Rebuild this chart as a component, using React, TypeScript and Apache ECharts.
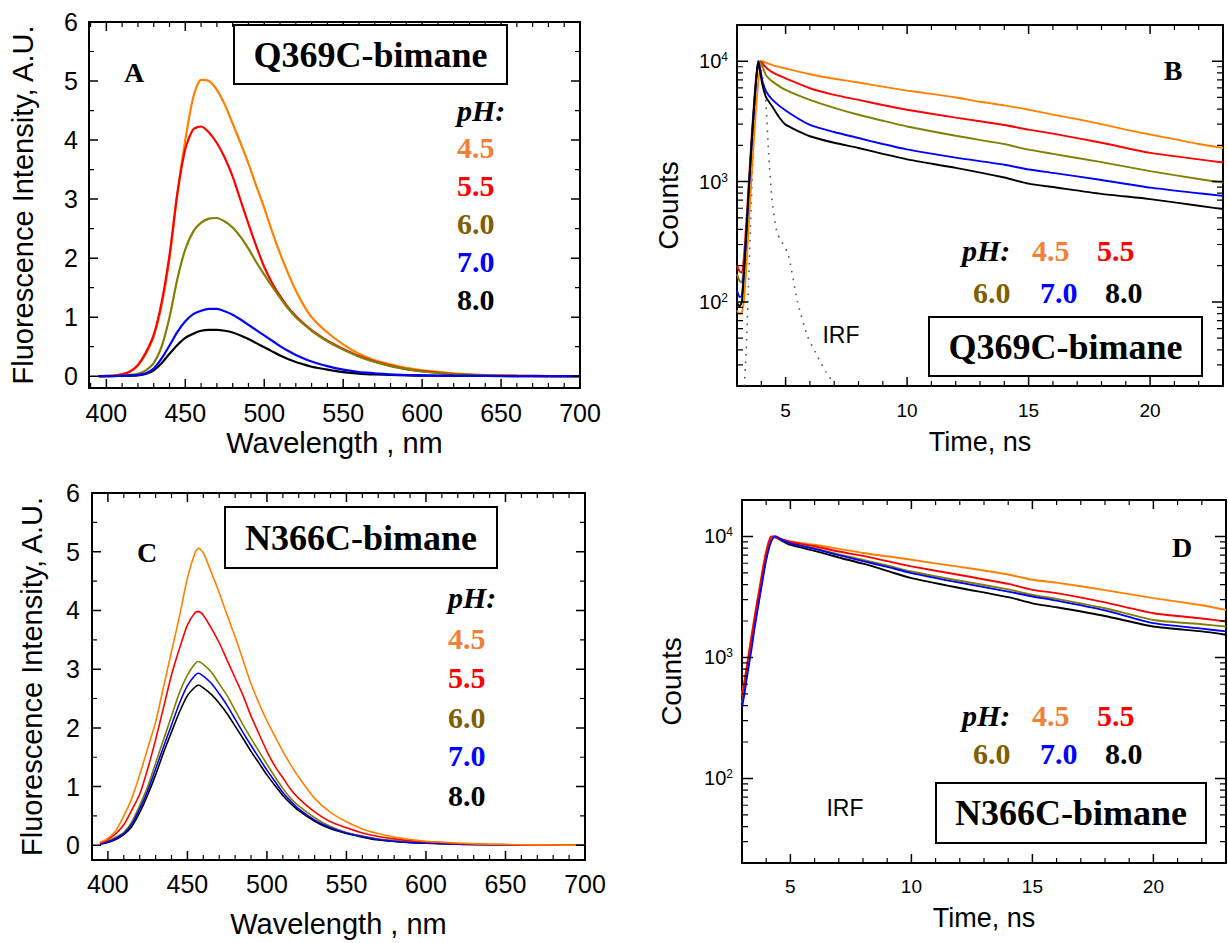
import React, { useEffect, useRef } from "react";
import * as echarts from "echarts";

const SANS = "'Liberation Sans', Arial, sans-serif";
const SERIF = "'Liberation Serif', 'Times New Roman', serif";

// ---------- legend / colours ----------
const phLabels = ["4.5", "5.5", "6.0", "7.0", "8.0"];
const lineColors = ["#FF8000", "#FF0000", "#808000", "#0000FF", "#000000"];
const textColors = ["#F0803A", "#FF0000", "#7F5F00", "#0000FF", "#000000"];

// ---------- panel A : Q369C-bimane emission spectra ----------
const wavelengthA = [395, 400, 405, 410, 415, 420, 425, 430, 435, 440, 445, 450, 455, 460, 465, 470, 475, 480, 485, 490, 495, 500, 505, 510, 515, 520, 525, 530, 540, 550, 560, 570, 580, 590, 600, 620, 640, 660, 680, 700];
const intensityA45 = [0, 0.005, 0.01, 0.03, 0.08, 0.18, 0.38, 0.68, 1.2, 2.0, 3.1, 4.0, 4.72, 5.02, 5.0, 4.85, 4.6, 4.28, 3.95, 3.6, 3.22, 2.85, 2.45, 2.08, 1.75, 1.45, 1.2, 1.0, 0.74, 0.54, 0.38, 0.27, 0.2, 0.14, 0.1, 0.05, 0.02, 0.008, 0.003, 0];
const intensityA55 = [0, 0.005, 0.01, 0.03, 0.08, 0.19, 0.4, 0.7, 1.25, 2.05, 3.1, 3.85, 4.18, 4.23, 4.13, 3.95, 3.7, 3.38, 2.98, 2.58, 2.2, 1.85, 1.58, 1.36, 1.17, 1.02, 0.89, 0.78, 0.6, 0.46, 0.34, 0.25, 0.18, 0.12, 0.085, 0.035, 0.014, 0.006, 0.002, 0];
const intensityA60 = [0, 0, 0.005, 0.01, 0.02, 0.04, 0.1, 0.22, 0.5, 1.0, 1.65, 2.15, 2.45, 2.6, 2.67, 2.68, 2.62, 2.52, 2.36, 2.16, 1.93, 1.72, 1.52, 1.33, 1.15, 1.0, 0.88, 0.77, 0.59, 0.45, 0.33, 0.24, 0.17, 0.12, 0.08, 0.035, 0.015, 0.006, 0.002, 0];
const intensityA70 = [0, 0, 0.003, 0.005, 0.01, 0.02, 0.05, 0.13, 0.3, 0.52, 0.75, 0.93, 1.05, 1.11, 1.14, 1.14, 1.1, 1.04, 0.96, 0.87, 0.78, 0.69, 0.6, 0.51, 0.43, 0.36, 0.3, 0.25, 0.17, 0.11, 0.07, 0.05, 0.03, 0.02, 0.015, 0.008, 0.004, 0.002, 0.001, 0];
const intensityA80 = [0, 0, 0.002, 0.005, 0.008, 0.015, 0.04, 0.1, 0.22, 0.38, 0.53, 0.65, 0.72, 0.77, 0.785, 0.785, 0.77, 0.74, 0.69, 0.63, 0.56, 0.49, 0.42, 0.35, 0.29, 0.24, 0.2, 0.16, 0.11, 0.07, 0.045, 0.03, 0.02, 0.013, 0.01, 0.005, 0.003, 0.001, 0, 0];

// ---------- panel C : N366C-bimane emission spectra ----------
const wavelengthC = [395, 400, 405, 410, 415, 420, 425, 430, 435, 440, 445, 450, 455, 457, 460, 465, 470, 475, 480, 485, 490, 495, 500, 505, 510, 515, 520, 530, 540, 550, 560, 570, 580, 590, 600, 620, 640, 660, 680, 700];
const intensityC45 = [0.05, 0.12, 0.25, 0.5, 0.8, 1.2, 1.65, 2.1, 2.7, 3.3, 3.9, 4.55, 5.0, 5.06, 4.98, 4.65, 4.3, 3.92, 3.55, 3.15, 2.75, 2.42, 2.12, 1.86, 1.6, 1.37, 1.16, 0.8, 0.56, 0.4, 0.28, 0.2, 0.14, 0.1, 0.07, 0.04, 0.02, 0.01, 0.005, 0];
const intensityC55 = [0.04, 0.1, 0.2, 0.35, 0.6, 0.87, 1.3, 1.8, 2.35, 2.9, 3.35, 3.75, 3.97, 3.98, 3.92, 3.7, 3.45, 3.15, 2.85, 2.55, 2.2, 1.9, 1.6, 1.35, 1.15, 0.95, 0.8, 0.57, 0.4, 0.3, 0.21, 0.15, 0.11, 0.08, 0.06, 0.03, 0.015, 0.008, 0.003, 0];
const intensityC60 = [0.03, 0.07, 0.14, 0.22, 0.4, 0.68, 1.0, 1.4, 1.8, 2.2, 2.6, 2.9, 3.1, 3.13, 3.08, 2.95, 2.75, 2.55, 2.3, 2.05, 1.82, 1.6, 1.38, 1.17, 0.97, 0.8, 0.67, 0.47, 0.32, 0.22, 0.16, 0.11, 0.08, 0.06, 0.045, 0.02, 0.01, 0.005, 0.002, 0];
const intensityC70 = [0.02, 0.06, 0.12, 0.2, 0.36, 0.62, 0.93, 1.3, 1.68, 2.05, 2.42, 2.72, 2.9, 2.93, 2.88, 2.76, 2.58, 2.38, 2.15, 1.92, 1.7, 1.49, 1.28, 1.09, 0.9, 0.75, 0.62, 0.43, 0.3, 0.21, 0.15, 0.1, 0.07, 0.05, 0.04, 0.02, 0.01, 0.005, 0.002, 0];
const intensityC80 = [0.02, 0.05, 0.1, 0.18, 0.32, 0.56, 0.86, 1.2, 1.58, 1.93, 2.27, 2.55, 2.7, 2.73, 2.68, 2.57, 2.42, 2.24, 2.03, 1.82, 1.6, 1.4, 1.2, 1.02, 0.85, 0.71, 0.59, 0.41, 0.28, 0.2, 0.14, 0.09, 0.065, 0.045, 0.035, 0.02, 0.01, 0.005, 0.002, 0];

// ---------- panel B : Q369C-bimane decays [time ns, counts] ----------
const decayB45 = [[3.0, 85], [3.1, 80], [3.2, 82], [3.3, 110], [3.4, 220], [3.5, 500], [3.6, 1100], [3.7, 2300], [3.8, 4500], [3.9, 7500], [4.0, 9600], [4.05, 10000], [4.2, 9700], [4.5, 9200], [5, 8700], [6, 7800], [7, 7150], [8, 6650], [9, 6150], [10, 5700], [11, 5350], [12, 5000], [13, 4600], [14, 4300], [15, 3950], [16, 3600], [17, 3300], [18, 3000], [19, 2700], [20, 2460], [21, 2250], [22, 2050], [23, 1900]];
const decayB55 = [[3.0, 200], [3.1, 180], [3.2, 175], [3.3, 260], [3.4, 520], [3.5, 1100], [3.6, 2300], [3.7, 4500], [3.8, 7800], [3.9, 9700], [3.98, 10000], [4.1, 9300], [4.3, 8500], [4.6, 7800], [5, 7200], [6, 5960], [7, 5250], [8, 4770], [9, 4330], [10, 3950], [12, 3400], [14, 2950], [15, 2700], [16, 2500], [18, 2100], [20, 1730], [22, 1530], [23, 1440]];
const decayB60 = [[3.0, 170], [3.1, 150], [3.2, 145], [3.3, 220], [3.4, 460], [3.5, 1000], [3.6, 2100], [3.7, 4200], [3.8, 7500], [3.9, 9600], [3.95, 10000], [4.05, 9000], [4.2, 7600], [4.45, 6800], [5, 5770], [6, 4770], [7, 4100], [8, 3590], [9, 3200], [10, 2870], [12, 2400], [14, 2050], [15, 1840], [16, 1700], [18, 1450], [20, 1220], [22, 1050], [23, 980]];
const decayB70 = [[3.0, 125], [3.1, 110], [3.2, 112], [3.3, 200], [3.4, 430], [3.5, 950], [3.6, 2050], [3.7, 4100], [3.8, 7400], [3.88, 10000], [3.95, 8700], [4.05, 6800], [4.2, 5600], [4.45, 4800], [5, 3900], [6, 2960], [7, 2580], [8, 2300], [9, 2050], [10, 1850], [12, 1580], [14, 1380], [15, 1260], [16, 1180], [18, 1030], [20, 890], [22, 800], [23, 760]];
const decayB80 = [[3.0, 98], [3.1, 92], [3.2, 100], [3.3, 190], [3.4, 420], [3.5, 950], [3.6, 2050], [3.7, 4100], [3.8, 7500], [3.87, 10000], [3.95, 8200], [4.05, 6300], [4.2, 5000], [4.45, 4200], [4.7, 3500], [5, 2970], [6, 2380], [7, 2100], [8, 1900], [9, 1700], [10, 1530], [12, 1300], [14, 1080], [15, 960], [16, 900], [18, 790], [20, 715], [22, 630], [23, 590]];
const irfB = [[3.3, 20], [3.38, 40], [3.45, 100], [3.55, 400], [3.65, 1500], [3.75, 5000], [3.85, 9500], [3.9, 10000], [4.0, 8500], [4.17, 5100], [4.3, 1740], [4.44, 710], [4.65, 375], [5.1, 250], [5.49, 100], [5.9, 52], [6.32, 35], [6.67, 26], [7.0, 21]];

// ---------- panel D : N366C-bimane decays [time ns, counts] ----------
const decayD45 = [[3.0, 500], [3.1, 650], [3.2, 850], [3.3, 1150], [3.4, 1550], [3.5, 2050], [3.6, 2700], [3.7, 3500], [3.8, 4600], [3.9, 6000], [4.0, 7500], [4.1, 9000], [4.2, 9900], [4.3, 10000], [4.5, 9700], [5, 9100], [6, 8530], [7, 7900], [8, 7300], [9, 6850], [10, 6410], [12, 5600], [14, 4850], [15, 4380], [16, 4150], [18, 3600], [20, 3090], [22, 2700], [23, 2470]];
const decayD55 = [[3.0, 480], [3.1, 620], [3.2, 830], [3.3, 1120], [3.4, 1500], [3.5, 2000], [3.6, 2650], [3.7, 3450], [3.8, 4500], [3.9, 5900], [4.0, 7400], [4.1, 8900], [4.2, 10000], [4.3, 9900], [4.5, 9600], [5, 9000], [6, 8300], [7, 7500], [8, 6900], [9, 6250], [10, 5650], [12, 4800], [14, 4050], [15, 3620], [16, 3400], [18, 2850], [20, 2320], [22, 2100], [23, 1980]];
const decayD60 = [[3.0, 420], [3.1, 540], [3.2, 720], [3.3, 970], [3.4, 1300], [3.5, 1750], [3.6, 2300], [3.7, 3000], [3.8, 3950], [3.9, 5200], [4.0, 6600], [4.1, 8100], [4.2, 9300], [4.3, 9900], [4.4, 10000], [4.6, 9500], [5, 8800], [6, 8000], [7, 7100], [8, 6400], [9, 5750], [10, 5130], [12, 4300], [14, 3650], [15, 3290], [16, 3050], [18, 2550], [20, 2040], [22, 1880], [23, 1800]];
const decayD70 = [[3.0, 385], [3.1, 500], [3.2, 680], [3.3, 900], [3.4, 1200], [3.5, 1650], [3.6, 2200], [3.7, 2900], [3.8, 3800], [3.9, 5000], [4.0, 6400], [4.1, 7800], [4.2, 9000], [4.3, 9800], [4.4, 10000], [4.6, 9500], [5, 8750], [6, 7900], [7, 7000], [8, 6250], [9, 5600], [10, 4980], [12, 4150], [14, 3500], [15, 3190], [16, 2950], [18, 2450], [20, 1920], [22, 1730], [23, 1640]];
const decayD80 = [[3.0, 430], [3.1, 560], [3.2, 750], [3.3, 1000], [3.4, 1350], [3.5, 1800], [3.6, 2400], [3.7, 3100], [3.8, 4100], [3.9, 5400], [4.0, 6800], [4.1, 8300], [4.2, 9500], [4.3, 10000], [4.4, 9900], [4.6, 9300], [5, 8500], [6, 7600], [7, 6700], [8, 5950], [9, 5200], [10, 4520], [12, 3750], [14, 3150], [15, 2800], [16, 2600], [18, 2200], [20, 1800], [22, 1640], [23, 1540]];

// ---------- axis tick positions (frame decoration) ----------
const wavelengthMajorTicks = [400, 450, 500, 550, 600, 650];
const wavelengthMinorTicks = [390, 410, 420, 430, 440, 460, 470, 480, 490, 510, 520, 530, 540, 560, 570, 580, 590, 610, 620, 630, 640, 660, 670, 680, 690];
const intensityMajorTicks = [0, 1, 2, 3, 4, 5];
const intensityMinorTicks = [0.5, 1.5, 2.5, 3.5, 4.5, 5.5];
const timeMajorTicks = [5, 10, 15, 20];
const timeMinorTicks = [4, 6, 7, 8, 9, 11, 12, 13, 14, 16, 17, 18, 19, 21, 22];
const countsMajorTicks = [100, 1000, 10000];
const countsMinorTicks = [30, 40, 50, 60, 70, 80, 90, 200, 300, 400, 500, 600, 700, 800, 900, 2000, 3000, 4000, 5000, 6000, 7000, 8000, 9000];

const T_MIN = 3;
const T_MAX = 23;

const GRIDS = [
  { left: 89, top: 22, width: 491, height: 366 },
  { left: 737, top: 25, width: 486, height: 361 },
  { left: 92, top: 493, width: 493, height: 367 },
  { left: 742, top: 500, width: 484, height: 363 },
];
// [xMin, xMax, yMin, yMax, log?]
const RANGES: [number, number, number, number, boolean][] = [
  [389, 700, -0.2, 6, false],
  [T_MIN, T_MAX, 20, 20000, true],
  [390, 700, -0.25, 6, false],
  [T_MIN, T_MAX, 20, 20000, true],
];

const black = "#000";

function logLabel(v: number) {
  const e = Math.log10(v);
  const r = Math.round(e);
  if (Math.abs(e - r) > 1e-6) return "";
  return "{b|10}{s|" + r + "}";
}

// Inward frame ticks drawn as a broken line series through each panel's own axes.
function tickSeries(g: number, major: boolean): any {
  const grid = GRIDS[g];
  const [x0, x1, y0, y1, isLog] = RANGES[g];
  const isTime = isLog;
  const xVals = major ? (isTime ? timeMajorTicks : wavelengthMajorTicks) : (isTime ? timeMinorTicks : wavelengthMinorTicks);
  const yVals = major ? (isLog ? countsMajorTicks : intensityMajorTicks) : (isLog ? countsMinorTicks : intensityMinorTicks);
  const lenX = major ? 9 : 5;
  const lenY = isLog ? (major ? 11 : 6) : major ? 9 : 5;
  const dxPerPx = (x1 - x0) / grid.width;
  const l0 = isLog ? Math.log10(y0) : y0;
  const l1 = isLog ? Math.log10(y1) : y1;
  const dyPerPx = (l1 - l0) / grid.height;
  const fromLog = (v: number) => (isLog ? Math.pow(10, v) : v);
  const data: any[] = [];
  xVals.forEach((v) => {
    if (v <= x0 || v >= x1) return;
    data.push([v, y0], [v, fromLog(l0 + lenX * dyPerPx)], [v, null]);
    data.push([v, y1], [v, fromLog(l1 - lenX * dyPerPx)], [v, null]);
  });
  yVals.forEach((v) => {
    if (v <= y0 || v >= y1) return;
    data.push([x0, v], [x0 + lenY * dxPerPx, v], [null, v]);
    data.push([x1, v], [x1 - lenY * dxPerPx, v], [null, v]);
  });
  return {
    type: "line",
    name: "ticks",
    xAxisIndex: g * 2,
    yAxisIndex: g * 2,
    data,
    showSymbol: false,
    connectNulls: false,
    smooth: false,
    silent: true,
    clip: false,
    z: 4,
    lineStyle: { color: black, width: major ? 1.5 : 1.2, cap: "butt" },
  };
}

function buildOption(): any {
  const xNames = ["Wavelength , nm", "Time, ns", "Wavelength , nm", "Time, ns"];
  const xLabelSize = [25, 19, 25, 19];
  const xMargin = [12, 15, 11, 14];
  const xNameGap = [40, 42, 49, 41];
  const xNameSize = [29, 27, 29, 27];
  const yNames = ["Fluorescence Intensity, A.U.", "Counts", "Fluorescence Intensity, A.U.", "Counts"];
  const yNameGap = [52, 55, 46, 57];
  const yMargin = [11, 9, 12, 9];

  const axisLine = () => ({ show: true, onZero: false, lineStyle: { color: black, width: 2 } });

  const xAxis: any[] = [];
  const yAxis: any[] = [];
  RANGES.forEach((r, g) => {
    xAxis.push({
      type: "value",
      gridIndex: g,
      min: r[0],
      max: r[1],
      position: "bottom",
      splitNumber: 5,
      splitLine: { show: false },
      axisLine: axisLine(),
      axisTick: { show: false },
      axisLabel: { show: true, margin: xMargin[g], fontSize: xLabelSize[g], color: black, fontFamily: SANS, showMinLabel: false, showMaxLabel: r[1] === 700 },
      name: xNames[g],
      nameLocation: "middle",
      nameGap: xNameGap[g],
      nameTextStyle: { fontSize: xNameSize[g], fontFamily: SANS, color: black },
    });
    xAxis.push({
      type: "value",
      gridIndex: g,
      min: r[0],
      max: r[1],
      position: "top",
      splitNumber: 5,
      splitLine: { show: false },
      axisLine: axisLine(),
      axisTick: { show: false },
      axisLabel: { show: false },
    });
    const yl: any = {
      type: r[4] ? "log" : "value",
      gridIndex: g,
      min: r[2],
      max: r[3],
      position: "left",
      splitLine: { show: false },
      axisLine: axisLine(),
      axisTick: { show: false },
      name: yNames[g],
      nameLocation: "middle",
      nameGap: yNameGap[g],
      nameTextStyle: { fontSize: r[4] ? 28 : 29, fontFamily: SANS, color: black },
    };
    if (r[4]) {
      yl.logBase = 10;
      yl.axisLabel = {
        show: true,
        margin: yMargin[g],
        formatter: logLabel,
        showMinLabel: false,
        showMaxLabel: false,
        rich: {
          b: { fontSize: 20, fontFamily: SANS, color: black },
          s: { fontSize: 12, fontFamily: SANS, color: black, verticalAlign: "top" },
        },
      };
    } else {
      yl.splitNumber = 6;
      yl.axisLabel = { show: true, margin: yMargin[g], fontSize: 25, color: black, fontFamily: SANS, showMinLabel: false };
    }
    yAxis.push(yl);
    const yr: any = {
      type: r[4] ? "log" : "value",
      gridIndex: g,
      min: r[2],
      max: r[3],
      position: "right",
      splitLine: { show: false },
      axisLine: axisLine(),
      axisTick: { show: false },
      axisLabel: { show: false },
    };
    if (r[4]) yr.logBase = 10;
    else yr.splitNumber = 6;
    yAxis.push(yr);
  });

  const series: any[] = [];
  const spectrum = (g: number, xs: number[], ys: number[], ci: number, width: number) => ({
    type: "line",
    name: "pH " + phLabels[ci],
    xAxisIndex: g * 2,
    yAxisIndex: g * 2,
    data: xs.map((x, k) => [x, ys[k]]),
    showSymbol: false,
    smooth: 0.25,
    silent: true,
    lineStyle: { color: lineColors[ci], width },
  });
  const decay = (g: number, pts: number[][], ci: number, width: number) => ({
    type: "line",
    name: "pH " + phLabels[ci],
    xAxisIndex: g * 2,
    yAxisIndex: g * 2,
    data: pts,
    showSymbol: false,
    smooth: 0.2,
    silent: true,
    lineStyle: { color: lineColors[ci], width },
  });

  const specA = [intensityA45, intensityA55, intensityA60, intensityA70, intensityA80];
  [0, 1, 2, 4, 3].forEach((ci) => series.push(spectrum(0, wavelengthA, specA[ci], ci, 2.2)));
  const specC = [intensityC45, intensityC55, intensityC60, intensityC70, intensityC80];
  [4, 2, 3, 1, 0].forEach((ci) => series.push(spectrum(2, wavelengthC, specC[ci], ci, 1.6)));
  series.push({
    type: "line",
    name: "IRF",
    xAxisIndex: 2,
    yAxisIndex: 2,
    data: irfB,
    showSymbol: false,
    smooth: 0.2,
    silent: true,
    lineStyle: { color: "#555", width: 1.6, type: [1.6, 6] },
  });
  const decB = [decayB45, decayB55, decayB60, decayB70, decayB80];
  [0, 1, 2, 3, 4].forEach((ci) => series.push(decay(1, decB[ci], ci, 1.9)));
  const decD = [decayD45, decayD55, decayD60, decayD70, decayD80];
  [4, 2, 0, 1, 3].forEach((ci) => series.push(decay(3, decD[ci], ci, 1.9)));

  [0, 1, 2, 3].forEach((g) => {
    series.push(tickSeries(g, true));
    series.push(tickSeries(g, false));
  });

  const txt = (text: string, x: number, y: number, size: number, fill: string, o: any = {}) => ({
    type: "text",
    x,
    y,
    z: 100,
    silent: true,
    style: {
      text,
      fill,
      fontSize: size,
      fontFamily: o.family || SERIF,
      fontWeight: o.weight || "bold",
      fontStyle: o.italic ? "italic" : "normal",
      align: o.align || "left",
      verticalAlign: "middle",
    },
  });
  const box = (x: number, y: number, w: number, h: number) => ({
    type: "rect",
    z: 90,
    silent: true,
    shape: { x, y, width: w, height: h },
    style: { fill: "#fff", stroke: "#000", lineWidth: 2 },
  });

  const graphic: any[] = [];
  graphic.push(txt("A", 134, 72, 28, "#000", { align: "center" }));
  graphic.push(txt("B", 1173, 70, 28, "#000", { align: "center" }));
  graphic.push(txt("C", 147, 552, 28, "#000", { align: "center" }));
  graphic.push(txt("D", 1182, 547, 28, "#000", { align: "center" }));
  graphic.push(box(234, 25, 273, 59), txt("Q369C-bimane", 370.5, 55, 36, "#000", { align: "center" }));
  graphic.push(box(225, 507, 272, 61), txt("N366C-bimane", 361, 538, 36, "#000", { align: "center" }));
  graphic.push(box(929, 317, 273, 59), txt("Q369C-bimane", 1065.5, 347, 36, "#000", { align: "center" }));
  graphic.push(box(936, 783, 270, 60), txt("N366C-bimane", 1071, 813, 36, "#000", { align: "center" }));
  graphic.push(txt("IRF", 841, 335, 23, "#000", { family: SANS, weight: "normal", align: "center" }));
  graphic.push(txt("IRF", 845, 808, 23, "#000", { family: SANS, weight: "normal", align: "center" }));
  const vLegend = (x: number, ys: number[]) => {
    graphic.push(txt("pH:", x, ys[0], 30, "#000", { italic: true }));
    phLabels.forEach((p, i) => graphic.push(txt(p, x, ys[i + 1], 30, textColors[i])));
  };
  vLegend(457, [110, 147, 185, 223, 261, 299]);
  vLegend(448, [597, 638, 677, 717, 755, 795]);
  const hLegend = (y1: number, y2: number) => {
    graphic.push(txt("pH:", 962, y1, 30, "#000", { italic: true }));
    graphic.push(txt(phLabels[0], 1032, y1, 30, textColors[0]));
    graphic.push(txt(phLabels[1], 1097, y1, 30, textColors[1]));
    graphic.push(txt(phLabels[2], 973, y2, 30, textColors[2]));
    graphic.push(txt(phLabels[3], 1040, y2, 30, textColors[3]));
    graphic.push(txt(phLabels[4], 1105, y2, 30, textColors[4]));
  };
  hLegend(250, 292);
  hLegend(715, 753);

  return {
    animation: false,
    backgroundColor: "#fff",
    grid: GRIDS,
    xAxis,
    yAxis,
    series,
    graphic,
  };
}

export default function App() {
  const ref = useRef<HTMLDivElement>(null);
  useEffect(() => {
    if (!ref.current) return;
    const chart = echarts.init(ref.current, null, { renderer: "svg" });
    chart.setOption(buildOption());
    return () => chart.dispose();
  }, []);
  return (
    <div
      ref={ref}
      style={{ position: "fixed", left: 0, top: 0, width: 1228, height: 943, background: "#fff" }}
    />
  );
}
